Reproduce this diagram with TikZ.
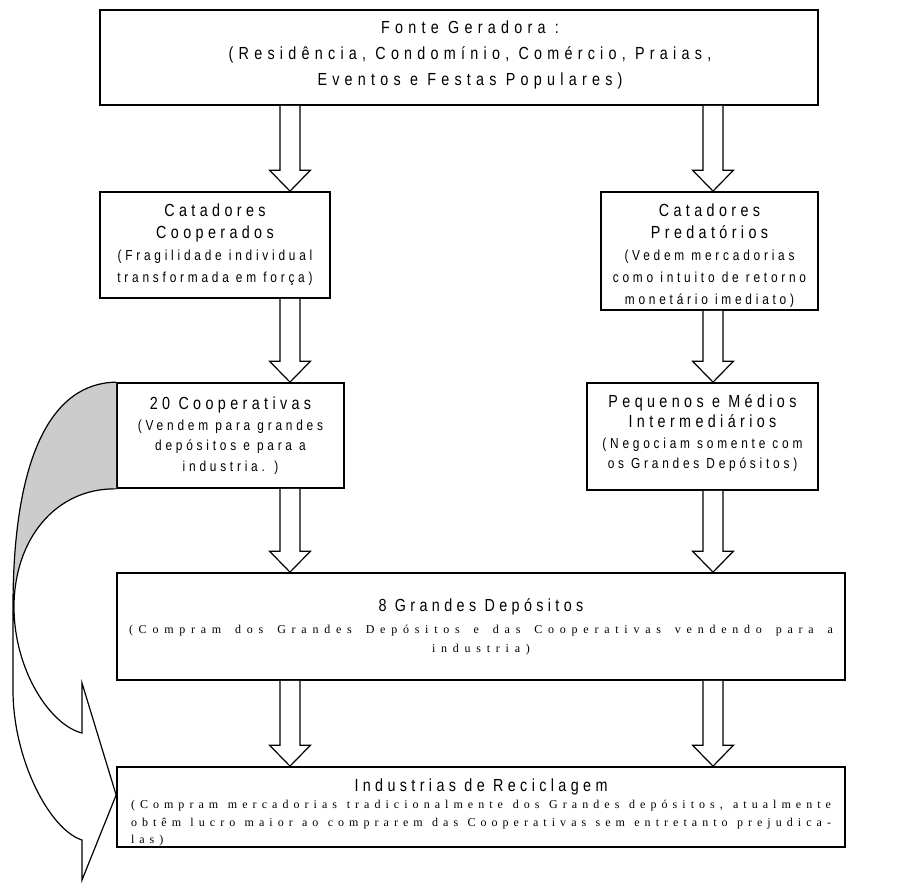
\documentclass[tikz,border=0pt]{standalone}
\usepackage{fontspec}
\setmainfont{Liberation Sans}
\newfontfamily\headfont[FakeStretch=0.82, LetterSpace=25]{Liberation Sans}
\newfontfamily\topfont[FakeStretch=0.82, LetterSpace=30]{Liberation Sans}
\newfontfamily\notefont[FakeStretch=0.82, LetterSpace=26]{Liberation Sans}
\newfontfamily\serifnote[LetterSpace=42]{Liberation Serif}
\newfontfamily\serifwide[LetterSpace=48]{Liberation Serif}
\usetikzlibrary{calc}

\tikzset{
  box/.style={draw, line width=1.7pt, inner sep=0pt, align=center, fill=white},
  blockline/.style={draw, line width=1.2pt, line join=miter, fill=white},
  curveline/.style={draw, line width=1.2pt, line join=miter},
}
\newcommand\headtxt[1]{{\headfont\fontsize{17.5}{22}\selectfont #1}}
\newcommand\subtxt[1]{{\notefont\fontsize{14.5}{21}\selectfont #1}}
\newcommand\serftxt[1]{{\serifnote\fontsize{12}{18}\selectfont #1}}
% a full-width line of the wide boxes, spaces stretched to fill it
\newcommand\fullline[1]{\makebox[700pt][s]{\serftxt{#1}}}
% hollow block arrow from the bottom of #2 to the top of #3 at abscissa #1
\newcommand\blockarrow[3]{%
  \path (#1,0 |- #2.south) coordinate (bas) (#1,0 |- #3.north) coordinate (bae);
  \draw[blockline] ($(bas)+(-10,0)$) -- ($(bae)+(-10,-21)$) -- ($(bae)+(-20.5,-21)$)
    -- (bae) -- ($(bae)+(20.5,-21)$) -- ($(bae)+(10,-21)$) -- ($(bas)+(10,0)$);}

\begin{document}
\begin{tikzpicture}[x=1pt,y=-1pt]
\useasboundingbox (0,0) rectangle (907,886);

% boxes
\node[box, minimum width=718pt, minimum height=95pt] (src) at (459,57.5) {};
\node[align=center, inner sep=0pt, font=\topfont\fontsize{17.5}{26}\selectfont]
  (srctext) at (470,55)
  {Fonte Geradora :\\(Residência, Condomínio, Comércio, Praias,\\Eventos e Festas Populares)};

\node[box, minimum width=230pt, minimum height=106pt, font=\fontsize{15}{22}\selectfont]
  (coop) at (215,245)
  {\headtxt{Catadores}\\\headtxt{Cooperados}\\\subtxt{(Fragilidade individual}\\\subtxt{transformada em força)}};

\node[box, minimum width=217pt, minimum height=118pt, font=\fontsize{15}{22}\selectfont]
  (pred) at (709.5,251)
  {\rule{0pt}{22pt}\headtxt{Catadores}\\\headtxt{Predatórios}\\\subtxt{(Vedem mercadorias}\\\subtxt{como intuito de retorno}\\\subtxt{monetário imediato)}};

\node[box, minimum width=227pt, minimum height=105pt, font=\fontsize{15}{20.5}\selectfont]
  (vinte) at (230.5,435.5)
  {\headtxt{20 Cooperativas}\\\subtxt{(Vendem para grandes}\\\subtxt{depósitos e para a}\\\subtxt{industria. )}};

\node[box, minimum width=231pt, minimum height=107pt, font=\fontsize{15}{20.5}\selectfont]
  (inter) at (702.5,436.5)
  {\headtxt{Pequenos e Médios}\\\headtxt{Intermediários}\\\subtxt{(Negociam somente com}\\\subtxt{os Grandes Depósitos)}\rule[-9.5pt]{0pt}{1pt}};

\node[box, minimum width=728pt, minimum height=107pt, font=\fontsize{12}{19}\selectfont]
  (dep) at (481,626.5)
  {\headtxt{8 Grandes Depósitos}\\[3pt]
   \makebox[704pt][s]{\serifwide\fontsize{12}{18}\selectfont (Compram dos Grandes Depósitos e das Cooperativas vendendo para a}\\
   {\serifwide\fontsize{12}{18}\selectfont industria)}};

\node[box, minimum width=728pt, minimum height=80pt, font=\fontsize{12}{17.5}\selectfont]
  (ind) at (481,807)
  {\rule{0pt}{23.5pt}\headtxt{Industrias de Reciclagem}\\
   \fullline{(Compram mercadorias tradicionalmente dos Grandes depósitos, atualmente}\\
   \fullline{obtêm lucro maior ao comprarem das Cooperativas sem entretanto prejudica-}\\
   \makebox[700pt][l]{\serftxt{las)}}};

% block arrows, left column
\blockarrow{290}{src}{coop}
\blockarrow{290}{coop}{vinte}
\blockarrow{290}{vinte}{dep}
\blockarrow{290}{dep}{ind}
% block arrows, right column
\blockarrow{713}{src}{pred}
\blockarrow{713}{pred}{inter}
\blockarrow{713}{inter}{dep}
\blockarrow{713}{dep}{ind}

% curved arrow from the cooperatives straight to the industries
\coordinate (ctip) at ($(ind.west)+(0,-12)$);
\fill[gray!40] (vinte.north west) .. controls (50,383) and (13,460) .. (13,607)
  .. controls (14,540) and (55,488) .. (vinte.south west) -- cycle;
\draw[curveline] (vinte.north west) .. controls (50,383) and (13,460) .. (13,607)
  -- (13,690) .. controls (13,760) and (50,830) .. (82,840)
  -- (82,880) -- (ctip) -- (82,683) -- (82,733)
  .. controls (50,725) and (14,670) .. (14,607)
  .. controls (14,540) and (55,488) .. (vinte.south west);
\end{tikzpicture}
\end{document}
